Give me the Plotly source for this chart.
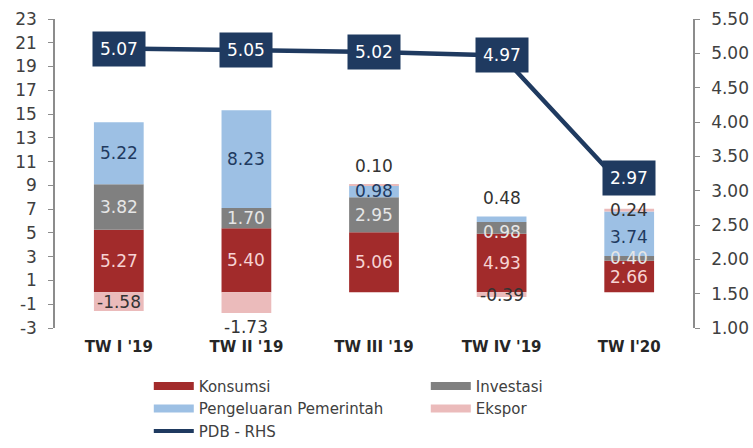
import plotly.graph_objects as go

categories = ["TW I '19", "TW II '19", "TW III '19", "TW IV '19", "TW I'20"]
konsumsi = [5.27, 5.40, 5.06, 4.93, 2.66]
investasi = [3.82, 1.70, 2.95, 0.98, 0.40]
pengeluaran = [5.22, 8.23, 0.98, 0.48, 3.74]
ekspor = [-1.58, -1.73, 0.10, -0.39, 0.24]
pdb = [5.07, 5.05, 5.02, 4.97, 2.97]

left_ticks = list(range(-3, 24, 2))
right_ticks = [1.00, 1.50, 2.00, 2.50, 3.00, 3.50, 4.00, 4.50, 5.00, 5.50]

FONT = "DejaVu Sans"
C_KON = "#A22B2B"
C_INV = "#808080"
C_PEM = "#9DC0E4"
C_EKS = "#EBBBBB"
C_PDB = "#1F3A60"
AXIS = "#8C8C8C"
TXT = "#404040"

fig = go.Figure()
series = [
    ("Konsumsi", konsumsi, C_KON),
    ("Investasi", investasi, C_INV),
    ("Pengeluaran Pemerintah", pengeluaran, C_PEM),
    ("Ekspor", ekspor, C_EKS),
]
for name, vals, col in series:
    fig.add_trace(go.Bar(x=categories, y=vals, name=name, marker_color=col,
                         marker_line_width=0, width=0.39, hoverinfo="skip",
                         showlegend=False))

fig.add_trace(go.Scatter(x=categories, y=pdb, name="PDB - RHS", mode="lines",
                         line=dict(color=C_PDB, width=4.5), yaxis="y2",
                         showlegend=False))

# legend entries (wide rectangular swatches like the original)
for name, _, col in series:
    fig.add_trace(go.Scatter(x=[None], y=[None], name=name, mode="lines",
                             line=dict(color=col, width=8), showlegend=True))
fig.add_trace(go.Scatter(x=[None], y=[None], name="PDB - RHS", mode="lines",
                         line=dict(color=C_PDB, width=4), showlegend=True))

# segment labels
label_colors = {"Konsumsi": "#F6D3D3", "Investasi": "#E6E6E6",
                "Pengeluaran Pemerintah": "#1F3A60", "Ekspor": "#333333"}
annotations = []
pos_base = [0.0] * len(categories)
neg_base = [0.0] * len(categories)
for name, vals, col in series:
    for i, v in enumerate(vals):
        if v >= 0:
            lo, hi = pos_base[i], pos_base[i] + v
            pos_base[i] = hi
        else:
            lo, hi = neg_base[i] + v, neg_base[i]
            neg_base[i] = lo
        y = (lo + hi) / 2
        yshift = 0
        yanchor = "middle"
        color = label_colors[name]
        if name == "Pengeluaran Pemerintah" and i == 3:
            y = hi; yanchor = "bottom"; yshift = 6; color = "#333333"
        if name == "Ekspor" and i == 2:
            y = hi; yanchor = "bottom"; yshift = 6
        if name == "Ekspor" and i == 1:
            y = lo; yanchor = "top"; yshift = -2
        if name == "Investasi" and i == 3:
            yshift = -4
        if name == "Pengeluaran Pemerintah" and i == 4:
            yshift = -3
        annotations.append(dict(x=categories[i], y=y, xref="x", yref="y",
                                text=f"{v:.2f}", showarrow=False, yanchor=yanchor,
                                yshift=yshift,
                                font=dict(family=FONT, size=17, color=color)))

for i, v in enumerate(pdb):
    annotations.append(dict(x=categories[i], y=v, xref="x", yref="y2",
                            text=f"{v:.2f}", showarrow=False,
                            bgcolor=C_PDB, borderpad=7,
                            yshift=15 if i == len(pdb) - 1 else 0,
                            font=dict(family=FONT, size=17, color="white")))

n = len(categories)
fig.update_layout(
    width=753, height=448,
    margin=dict(l=55, r=60, t=19, b=120, autoexpand=False),
    paper_bgcolor="white", plot_bgcolor="white",
    barmode="relative", bargap=0.61,
    showlegend=True,
    legend=dict(orientation="h", x=0.147, xanchor="left", y=-0.135, yanchor="top",
                entrywidth=222, entrywidthmode="pixels",
                font=dict(family=FONT, size=15, color=TXT),
                tracegroupgap=0, itemwidth=40, bgcolor="rgba(0,0,0,0)"),
    font=dict(family=FONT, color=TXT),
    xaxis=dict(type="category", showline=False, ticks="", showgrid=False,
               ticklabelstandoff=8,
               tickfont=dict(family=FONT, size=15, color="#262626", weight="bold"),
               range=[-0.5, n - 0.5]),
    xaxis2=dict(overlaying="x", anchor="free",
                position=(0 - left_ticks[0]) / (left_ticks[-1] - left_ticks[0]),
                range=[-0.5, n - 0.5], showline=True, linecolor=AXIS, linewidth=1.5,
                ticks="outside", ticklen=5, tickcolor=AXIS,
                tickvals=[k + 0.5 for k in range(n - 1)], showticklabels=False,
                showgrid=False, zeroline=False),
    yaxis=dict(range=[left_ticks[0], left_ticks[-1]], tickvals=left_ticks,
               ticktext=[str(t) for t in left_ticks],
               showline=True, linecolor=AXIS, linewidth=1.5, ticks="outside",
               ticklen=5, tickcolor=AXIS, showgrid=False, zeroline=False,
               ticklabelstandoff=8,
               tickfont=dict(family=FONT, size=17, color=TXT)),
    yaxis2=dict(range=[right_ticks[0], right_ticks[-1]], tickvals=right_ticks,
                tickformat=".2f", overlaying="y", side="right",
                showline=True, linecolor=AXIS, linewidth=1.5, ticks="outside",
                ticklen=5, tickcolor=AXIS, showgrid=False, zeroline=False,
                ticklabelstandoff=8,
                tickfont=dict(family=FONT, size=17, color=TXT)),
    annotations=annotations,
)

fig.write_html("out.html")
